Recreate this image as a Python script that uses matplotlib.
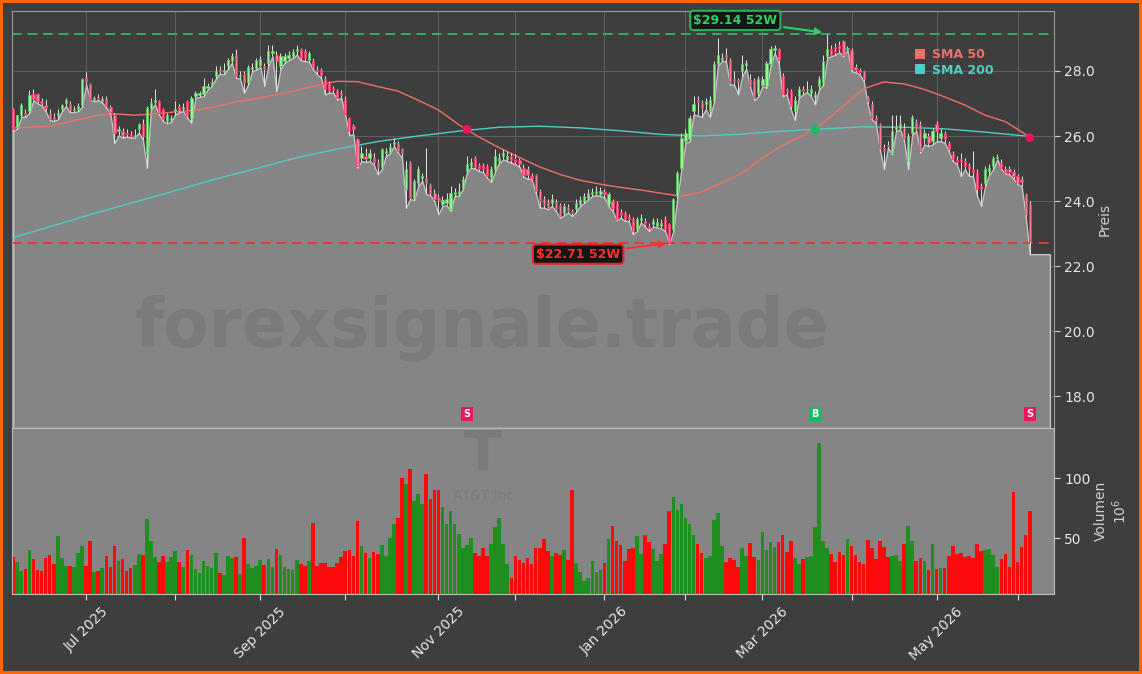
import numpy as np
import matplotlib
matplotlib.use("Agg")
import matplotlib.pyplot as plt
from matplotlib.patches import Patch

# ── Daily bars (AT&T, Jun 2025 – Jun 2026), prices in USD ─────────────
OPEN = [
    26.82, 26.28, 26.63, 26.71, 26.76, 27.30, 27.30, 27.07, 26.94, 26.71,
    26.59, 26.66, 26.82, 27.00, 26.97, 26.80, 26.82, 26.94, 27.81, 27.60,
    27.12, 27.19, 27.09, 27.15, 26.89, 26.66, 26.15, 26.15, 26.10, 26.05,
    25.98, 26.20, 26.36, 25.44, 26.87, 27.04, 27.07, 26.82, 26.46, 26.49,
    26.76, 26.92, 26.82, 27.07, 26.56, 27.22, 27.25, 27.28, 27.48, 27.58,
    27.84, 28.06, 27.96, 28.15, 28.30, 28.50, 27.84, 27.91, 27.65, 28.06,
    28.09, 28.18, 28.15, 28.25, 28.55, 28.50, 28.15, 28.30, 28.40, 28.45,
    28.61, 28.68, 28.61, 28.33, 28.30, 28.06, 28.02, 27.76, 27.63, 27.48,
    27.37, 27.33, 27.15, 26.56, 26.30, 25.90, 25.33, 25.40, 25.33, 25.36,
    25.18, 25.06, 25.47, 25.51, 25.74, 25.79, 25.59, 24.38, 25.18, 24.11,
    24.57, 24.72, 24.72, 24.48, 24.26, 24.11, 23.90, 23.93, 23.75, 24.21,
    24.21, 24.41, 24.92, 25.08, 25.33, 25.10, 25.10, 25.08, 24.72, 24.98,
    25.23, 25.38, 25.30, 25.38, 25.30, 25.26, 25.03, 24.98, 24.77, 24.79,
    24.31, 24.06, 23.97, 23.95, 23.97, 23.87, 23.63, 23.83, 23.70, 23.75,
    23.90, 24.00, 24.11, 24.21, 24.24, 24.21, 24.28, 23.90, 24.00, 23.93,
    23.67, 23.65, 23.52, 23.46, 23.13, 23.42, 23.39, 23.24, 23.29, 23.24,
    23.24, 23.44, 23.29, 23.13, 24.16, 25.03, 25.84, 25.90, 26.76, 27.12,
    27.00, 26.97, 26.76, 27.07, 28.20, 28.35, 28.50, 28.35, 27.74, 27.72,
    27.99, 28.17, 27.74, 27.72, 27.33, 27.58, 27.53, 28.20, 28.64, 28.66,
    27.84, 27.41, 27.38, 26.76, 27.22, 27.43, 27.41, 27.33, 27.17, 27.53,
    27.63, 28.47, 28.68, 28.74, 28.81, 28.91, 28.68, 28.64, 28.12, 28.02,
    27.99, 27.17, 26.97, 26.56, 26.36, 25.64, 25.71, 25.49, 26.20, 26.25,
    26.25, 25.23, 26.10, 26.43, 26.36, 25.95, 26.00, 25.84, 26.36, 25.95,
    26.08, 25.79, 25.44, 25.26, 25.28, 25.23, 25.08, 25.00, 24.89, 24.46,
    24.57, 24.92, 25.08, 25.33, 25.18, 24.98, 24.98, 24.89, 24.77, 24.69,
    24.21, 23.90,
]
HIGH = [
    26.87, 26.66, 27.00, 26.82, 27.40, 27.43, 27.33, 27.17, 27.14, 26.82,
    26.71, 26.82, 26.97, 27.17, 27.07, 26.92, 27.00, 27.79, 27.96, 27.63,
    27.22, 27.28, 27.22, 27.22, 26.94, 26.71, 26.30, 26.25, 26.20, 26.15,
    26.20, 26.41, 26.51, 26.92, 27.17, 27.45, 27.12, 26.87, 26.71, 26.66,
    27.07, 26.97, 27.02, 27.12, 27.22, 27.38, 27.38, 27.79, 27.63, 27.79,
    28.15, 28.15, 28.23, 28.40, 28.55, 28.68, 27.99, 27.99, 28.17, 28.25,
    28.40, 28.47, 28.25, 28.81, 28.81, 28.61, 28.55, 28.55, 28.61, 28.66,
    28.81, 28.71, 28.66, 28.61, 28.40, 28.15, 28.09, 27.84, 27.69, 27.55,
    27.43, 27.41, 27.22, 26.59, 26.36, 25.95, 25.69, 25.64, 25.59, 25.49,
    25.28, 25.64, 25.64, 25.79, 25.95, 25.84, 25.64, 25.23, 25.23, 24.67,
    25.08, 24.87, 25.64, 24.57, 24.36, 24.21, 24.16, 24.26, 24.46, 24.41,
    24.55, 24.77, 25.38, 25.33, 25.40, 25.18, 25.18, 25.13, 25.08, 25.59,
    25.49, 25.61, 25.54, 25.49, 25.44, 25.33, 25.13, 25.08, 24.85, 24.82,
    24.36, 24.16, 24.06, 24.21, 24.06, 23.95, 23.95, 23.90, 23.77, 24.06,
    24.16, 24.26, 24.36, 24.41, 24.46, 24.44, 24.36, 24.28, 24.06, 24.00,
    23.75, 23.70, 23.60, 23.52, 23.52, 23.60, 23.49, 23.34, 23.49, 23.49,
    23.44, 23.54, 23.34, 24.11, 24.92, 26.10, 26.20, 26.66, 27.22, 27.22,
    27.12, 27.17, 27.22, 28.30, 29.01, 28.55, 28.71, 28.40, 27.99, 27.79,
    28.50, 28.35, 27.89, 27.79, 27.84, 27.84, 28.30, 28.76, 28.81, 28.71,
    27.94, 27.48, 27.43, 27.22, 27.53, 27.53, 27.69, 27.58, 27.38, 27.84,
    28.50, 29.14, 28.81, 28.86, 28.91, 28.96, 28.76, 28.71, 28.20, 28.09,
    28.04, 27.22, 27.07, 26.66, 26.41, 25.74, 25.84, 26.66, 26.66, 26.66,
    26.41, 26.10, 26.66, 26.51, 26.46, 26.20, 26.10, 26.25, 26.46, 26.20,
    26.15, 25.84, 25.54, 25.38, 25.49, 25.33, 25.18, 25.54, 24.98, 24.57,
    25.08, 25.13, 25.40, 25.44, 25.28, 25.08, 25.08, 24.98, 24.82, 24.77,
    24.26, 24.00,
]
LOW = [
    26.15, 26.23, 26.59, 26.59, 26.71, 27.10, 27.00, 26.94, 26.76, 26.49,
    26.46, 26.51, 26.76, 26.92, 26.73, 26.73, 26.76, 26.90, 27.58, 27.10,
    27.07, 27.10, 27.02, 26.87, 26.69, 25.79, 26.02, 25.95, 25.98, 25.95,
    25.95, 26.10, 25.90, 25.03, 26.82, 26.97, 26.66, 26.46, 26.39, 26.44,
    26.66, 26.73, 26.76, 26.56, 26.41, 27.17, 27.20, 27.22, 27.43, 27.53,
    27.76, 27.92, 27.89, 28.06, 28.25, 27.79, 27.76, 27.33, 27.58, 27.99,
    28.04, 28.12, 27.55, 28.15, 28.45, 27.38, 28.06, 28.25, 28.33, 28.40,
    28.50, 28.33, 28.30, 28.28, 28.06, 27.89, 27.79, 27.28, 27.33, 27.33,
    27.12, 27.17, 26.63, 26.02, 26.05, 25.03, 25.23, 25.20, 25.23, 25.13,
    24.82, 24.98, 25.38, 25.47, 25.69, 25.49, 25.33, 23.80, 24.06, 24.03,
    24.46, 24.62, 24.21, 24.18, 24.00, 23.60, 23.85, 23.87, 23.70, 24.16,
    24.16, 24.36, 24.87, 25.03, 25.00, 24.92, 24.89, 24.72, 24.59, 24.92,
    25.18, 25.28, 25.23, 25.18, 25.13, 25.06, 24.75, 24.69, 24.67, 24.26,
    23.80, 23.80, 23.75, 23.85, 23.70, 23.49, 23.56, 23.65, 23.54, 23.67,
    23.85, 23.95, 24.06, 24.16, 24.18, 24.16, 24.11, 23.85, 23.70, 23.42,
    23.49, 23.39, 23.39, 22.98, 23.08, 23.34, 23.22, 23.08, 23.22, 23.19,
    23.16, 23.08, 22.68, 23.08, 24.11, 24.98, 25.79, 25.84, 26.66, 26.63,
    26.59, 26.82, 26.59, 27.02, 28.15, 28.30, 28.30, 27.58, 27.58, 27.28,
    27.84, 28.06, 27.48, 27.10, 27.22, 27.53, 27.48, 28.15, 28.55, 28.25,
    27.22, 27.28, 26.82, 26.49, 27.17, 27.28, 27.35, 27.22, 26.97, 27.43,
    27.58, 28.40, 28.45, 28.50, 28.57, 28.45, 28.64, 27.99, 27.96, 27.89,
    27.69, 26.97, 26.51, 26.41, 25.59, 24.98, 25.64, 25.44, 26.15, 26.20,
    25.84, 24.98, 26.05, 26.15, 25.49, 25.74, 25.69, 25.74, 25.84, 25.84,
    25.79, 25.54, 25.23, 25.13, 24.77, 24.98, 24.77, 24.77, 24.16, 23.85,
    24.46, 24.82, 24.98, 25.28, 24.98, 24.85, 24.82, 24.69, 24.52, 24.46,
    23.54, 22.37,
]
CLOSE = [
    26.20, 26.63, 26.94, 26.66, 27.25, 27.15, 27.07, 27.00, 26.87, 26.53,
    26.53, 26.71, 26.94, 27.12, 26.79, 26.84, 26.92, 27.74, 27.65, 27.12,
    27.17, 27.14, 27.14, 26.92, 26.73, 26.10, 26.23, 26.02, 26.05, 26.00,
    26.02, 26.36, 26.00, 26.87, 27.02, 27.10, 26.71, 26.53, 26.63, 26.55,
    26.84, 26.80, 26.89, 26.61, 27.17, 27.31, 27.31, 27.53, 27.55, 27.65,
    27.99, 27.99, 28.04, 28.33, 28.47, 27.84, 27.88, 27.63, 28.11, 28.12,
    28.33, 28.37, 28.06, 28.61, 28.62, 28.30, 28.45, 28.47, 28.50, 28.57,
    28.66, 28.40, 28.40, 28.55, 28.12, 28.00, 27.86, 27.43, 27.38, 27.41,
    27.17, 27.25, 26.69, 26.15, 26.20, 25.08, 25.49, 25.28, 25.47, 25.20,
    25.06, 25.59, 25.53, 25.65, 25.81, 25.54, 25.47, 25.00, 24.11, 24.62,
    24.98, 24.77, 24.57, 24.24, 24.08, 24.03, 24.03, 24.06, 24.24, 24.28,
    24.31, 24.67, 25.13, 25.20, 25.06, 25.00, 24.98, 24.77, 24.98, 25.38,
    25.33, 25.47, 25.40, 25.26, 25.20, 25.13, 24.79, 24.79, 24.72, 24.31,
    24.00, 23.87, 23.80, 24.06, 23.75, 23.54, 23.85, 23.70, 23.63, 23.95,
    24.03, 24.16, 24.24, 24.28, 24.31, 24.31, 24.21, 24.21, 23.80, 23.46,
    23.56, 23.44, 23.46, 23.08, 23.44, 23.49, 23.29, 23.16, 23.39, 23.36,
    23.34, 23.13, 22.71, 24.06, 24.87, 25.95, 26.08, 26.56, 26.97, 27.04,
    26.87, 27.07, 27.12, 28.20, 28.50, 28.41, 28.40, 27.63, 27.69, 27.65,
    28.20, 28.25, 27.53, 27.17, 27.74, 27.76, 28.25, 28.66, 28.69, 28.33,
    27.28, 27.37, 26.92, 27.12, 27.45, 27.38, 27.45, 27.45, 27.28, 27.74,
    28.30, 28.68, 28.50, 28.57, 28.66, 28.50, 28.71, 28.06, 28.02, 27.96,
    27.74, 27.07, 26.56, 26.49, 25.64, 25.54, 25.69, 26.15, 26.28, 26.36,
    25.90, 26.00, 26.59, 26.20, 25.54, 26.10, 25.79, 26.15, 26.15, 26.10,
    25.90, 25.59, 25.28, 25.20, 25.20, 25.08, 24.98, 24.89, 24.36, 24.38,
    25.00, 25.03, 25.33, 25.36, 25.03, 24.89, 24.89, 24.77, 24.57, 24.59,
    23.60, 22.78,
]
# volume in millions of shares
VOLUME = [
    34.4, 30.3, 22.8, 24.2, 40.0, 32.5, 23.3, 22.8, 33.6, 35.8,
    28.3, 51.7, 33.6, 26.9, 26.9, 26.1, 37.8, 43.3, 26.9, 47.5,
    21.4, 22.5, 25.0, 35.0, 26.1, 43.3, 30.8, 32.5, 22.5, 25.0,
    27.5, 36.7, 35.8, 65.8, 47.5, 34.2, 30.0, 35.0, 30.0, 34.2,
    39.2, 30.0, 26.1, 40.0, 35.8, 24.2, 20.8, 30.8, 26.7, 25.0,
    37.5, 20.8, 19.2, 35.0, 33.3, 34.2, 20.0, 50.0, 28.3, 25.0,
    26.7, 31.7, 27.5, 32.5, 25.8, 40.8, 35.8, 25.8, 24.2, 23.3,
    31.7, 28.3, 26.7, 30.8, 62.5, 26.7, 29.2, 29.2, 25.8, 25.8,
    29.2, 34.2, 39.2, 40.0, 35.0, 64.2, 43.3, 37.5, 33.3, 38.3,
    36.7, 44.2, 35.0, 50.0, 61.7, 66.7, 100.6, 95.6, 107.5, 81.1,
    86.7, 78.3, 103.3, 82.5, 90.0, 90.0, 75.6, 61.7, 72.5, 62.2,
    53.3, 41.7, 44.2, 50.0, 37.2, 35.0, 41.7, 35.0, 45.0, 59.2,
    66.7, 45.0, 28.3, 16.7, 35.0, 31.7, 29.2, 33.3, 28.3, 41.7,
    41.7, 49.2, 39.2, 35.0, 37.5, 35.8, 40.0, 31.7, 90.0, 29.2,
    21.7, 14.2, 16.7, 30.8, 21.7, 23.3, 29.2, 49.2, 60.0, 47.5,
    44.2, 30.8, 40.8, 41.7, 51.7, 36.7, 52.5, 46.7, 40.8, 30.8,
    36.7, 45.0, 72.5, 84.2, 73.9, 78.3, 66.7, 61.7, 52.5, 45.0,
    37.5, 33.3, 35.0, 65.0, 70.8, 43.3, 30.0, 33.3, 31.7, 25.8,
    41.7, 35.0, 45.8, 34.2, 31.7, 55.0, 40.0, 46.7, 42.5, 46.7,
    52.5, 38.3, 47.5, 33.3, 28.3, 32.5, 34.2, 35.0, 59.2, 129.2,
    47.5, 41.7, 36.7, 30.0, 38.3, 35.8, 49.2, 43.3, 35.8, 30.0,
    28.3, 48.3, 41.7, 32.5, 47.5, 42.5, 34.2, 35.0, 35.8, 30.8,
    45.0, 60.0, 47.5, 30.8, 33.3, 30.8, 23.3, 45.0, 24.2, 25.0,
    25.0, 35.0, 43.3, 36.7, 37.5, 34.2, 35.0, 33.3, 45.0, 39.2,
    40.0, 40.8, 35.8, 25.8, 32.5, 36.7, 26.1, 88.3, 30.0, 42.5,
    52.5, 72.5,
]

# moving averages (bar index -> value)
SMA50_IDX = [0, 5, 10, 15, 20, 25, 30, 35, 40, 45, 50, 55, 60, 65, 70, 75,
             80, 85, 90, 95, 100, 105, 110, 115, 120, 125, 130, 135, 140,
             145, 150, 155, 160, 165, 170, 175, 180, 185, 190, 195, 200,
             205, 210, 215, 220, 225, 230, 235, 240, 245, 250, 251]
SMA50_VAL = [26.25, 26.27, 26.32, 26.47, 26.62, 26.68, 26.64, 26.68, 26.74,
             26.79, 26.90, 27.05, 27.15, 27.27, 27.40, 27.56, 27.68, 27.67,
             27.52, 27.38, 27.10, 26.80, 26.35, 25.97, 25.64, 25.34, 25.05,
             24.82, 24.64, 24.52, 24.42, 24.34, 24.24, 24.15, 24.28, 24.56,
             24.86, 25.32, 25.72, 26.02, 26.40, 26.92, 27.45, 27.66, 27.60,
             27.43, 27.20, 26.95, 26.64, 26.44, 26.05, 25.95]
SMA200_IDX = [0, 10, 20, 30, 40, 50, 60, 70, 80, 90, 100, 110, 120, 130, 140,
              150, 160, 170, 180, 190, 200, 210, 220, 230, 240, 250, 251]
SMA200_VAL = [22.88, 23.25, 23.62, 23.97, 24.32, 24.68, 25.00, 25.33, 25.60,
              25.83, 26.00, 26.15, 26.27, 26.30, 26.25, 26.16, 26.05, 26.00,
              26.06, 26.15, 26.22, 26.28, 26.27, 26.22, 26.12, 26.00, 25.99]

# first trading day of each month (bar index) and labels
MONTH_POS = [18, 40, 61, 82, 105, 124, 146, 166, 185, 207, 228, 248]
MONTH_LABELS = ["Jul 2025", "", "Sep 2025", "", "Nov 2025", "", "Jan 2026", "",
                "Mar 2026", "", "May 2026", ""]

# SMA crossings / signals
CROSS_IDX = [112, 198, 251]
CROSS_VAL = [26.20, 26.20, 25.95]
CROSS_KIND = ["S", "B", "S"]

HIGH_52W, HIGH_52W_IDX = 29.14, 201
LOW_52W, LOW_52W_IDX = 22.71, 162

# ── Theme ──────────────────────────────────────────────────────────────
BG = "#3e3e3e"
PANEL = "#858585"
TXT = "#e6e6e6"
SMA50_COLOR = "#f07068"
SMA200_COLOR = "#4ecdc4"
UP_FACE, UP_EDGE = "#9af29a", "#5cc85c"
DN_FACE, DN_EDGE = "#ff7d98", "#ff3060"
VOL_UP, VOL_DN = "#1f901f", "#ff0a0a"
SELL_C, BUY_C = "#f0145a", "#10c060"

o = np.array(OPEN)
h = np.array(HIGH)
lo = np.array(LOW)
c = np.array(CLOSE)
n = len(c)
x = np.arange(n)
up = c >= o

PAD = 5
YMIN, YMAX = 17.03, 29.84
W, H = 1142, 674

fig = plt.figure(figsize=(W / 100, H / 100), dpi=100)
fig.patch.set_facecolor(BG)
fig.patch.set_edgecolor("#ff6600")
fig.patch.set_linewidth(4)

ax = fig.add_axes([12 / W, 1 - 428 / H, 1042 / W, 417 / H])
axv = fig.add_axes([12 / W, 1 - 594 / H, 1042 / W, 166 / H], sharex=ax)
ax.set_facecolor(BG)
axv.set_facecolor(PANEL)

# ── price panel ────────────────────────────────────────────────────────
xf = np.arange(n + PAD)
lf = np.concatenate([lo, np.full(PAD, lo[-1])])
ax.fill_between(xf, lf, YMIN, facecolor=PANEL, edgecolor="#c4c4c4",
                linewidth=1.0, zorder=1)

ax.text(0.451, 0.24, "forexsignale.trade", transform=ax.transAxes,
        fontsize=48, fontweight="bold", color="#7a7a7a",
        ha="center", va="center", zorder=1.5)

ax.plot(SMA50_IDX, SMA50_VAL, color=SMA50_COLOR, lw=1.0, zorder=2)
ax.plot(SMA200_IDX, SMA200_VAL, color=SMA200_COLOR, lw=1.0, zorder=2)

ax.axhline(HIGH_52W, color="#30b060", lw=1.4, ls=(0, (5, 3)), zorder=2.5)
ax.axhline(LOW_52W, color="#e03a3a", lw=1.4, ls=(0, (5, 3)), zorder=2.5)

# candles
ax.vlines(x, lo, h, color="#e4e4e4", lw=0.7, zorder=3)
body_lo = np.minimum(o, c)
body_h = np.maximum(np.abs(c - o), 0.02)
ax.bar(x, body_h, bottom=body_lo, width=0.55,
       color=np.where(up, UP_FACE, DN_FACE),
       edgecolor=np.where(up, UP_EDGE, DN_EDGE), linewidth=0.5, zorder=4)

# crossings
ax.scatter(CROSS_IDX, CROSS_VAL, s=28, zorder=6,
           c=[BUY_C if k == "B" else SELL_C for k in CROSS_KIND])
for i, k in zip(CROSS_IDX, CROSS_KIND):
    ax.text(i, 17.46, k, color="white", fontsize=7, fontweight="bold",
            ha="center", va="center", zorder=6,
            bbox=dict(boxstyle="square,pad=0.25",
                      fc=BUY_C if k == "B" else SELL_C, ec="none"))

# 52 week markers
ax.annotate(f"${HIGH_52W:.2f} 52W", xy=(HIGH_52W_IDX - 0.5, HIGH_52W + 0.03),
            xytext=(178.3, 29.55), color="#2ed06a", fontsize=9,
            fontweight="bold", ha="center", va="center", zorder=7,
            bbox=dict(boxstyle="round,pad=0.25", fc="#141414", ec="#28b05a",
                      lw=1.5),
            arrowprops=dict(arrowstyle="-|>", color="#2ed06a", lw=1.5,
                            mutation_scale=10))
ax.annotate(f"${LOW_52W:.2f} 52W", xy=(LOW_52W_IDX, LOW_52W),
            xytext=(139.5, 22.37), color="#ff3030", fontsize=9,
            fontweight="bold", ha="center", va="center", zorder=7,
            bbox=dict(boxstyle="round,pad=0.25", fc="#141414", ec="#e02828",
                      lw=1.5),
            arrowprops=dict(arrowstyle="-|>", color="#ff3030", lw=1.5,
                            mutation_scale=10))

leg = ax.legend([Patch(facecolor=SMA50_COLOR), Patch(facecolor=SMA200_COLOR)],
                ["SMA 50", "SMA 200"], loc="upper left",
                bbox_to_anchor=(0.867, 0.911), frameon=False,
                prop={"weight": "bold", "size": 9}, handlelength=0.8,
                handleheight=0.8, handletextpad=0.5, labelspacing=0.2,
                borderaxespad=0, borderpad=0)
for t, col in zip(leg.get_texts(), [SMA50_COLOR, SMA200_COLOR]):
    t.set_color(col)

ax.set_ylim(YMIN, YMAX)
ax.set_xlim(-0.3, 257.0)
ax.set_yticks(np.arange(18, 29, 2))
ax.set_yticklabels([f"{v:.1f}" for v in np.arange(18, 29, 2)])
ax.yaxis.tick_right()
ax.yaxis.set_label_position("right")
ax.set_ylabel("Preis", color="#d0d0d0", fontsize=10, labelpad=2)
ax.set_xticks(MONTH_POS)
ax.tick_params(axis="x", labelbottom=False, length=0)
ax.tick_params(axis="y", colors=TXT, labelsize=10, length=4, color="#cccccc")
ax.grid(True, color="#5e5e5e", lw=0.8)
ax.set_axisbelow(True)
for s in ax.spines.values():
    s.set_color("#9a9a9a")
    s.set_linewidth(0.8)

# ── volume panel ───────────────────────────────────────────────────────
axv.bar(x, VOLUME, width=0.9, color=np.where(up, VOL_UP, VOL_DN), zorder=2)
axv.text(0.452, 0.84, "T", transform=axv.transAxes, fontsize=40,
         fontweight="bold", color="#7a7a7a", ha="center", va="center", zorder=1)
axv.text(0.452, 0.59, "AT&T Inc", transform=axv.transAxes, fontsize=10,
         color="#7c7c7c", ha="center", va="center", zorder=1)
axv.set_ylim(3.3, 142)
axv.set_yticks([50, 100])
axv.yaxis.tick_right()
axv.yaxis.set_label_position("right")
axv.set_ylabel("Volumen\n$10^6$", color="#d0d0d0", fontsize=10, labelpad=2)
axv.set_xticks(MONTH_POS)
axv.set_xticklabels(MONTH_LABELS, rotation=45, ha="center")
axv.tick_params(colors=TXT, labelsize=10, length=4)
axv.tick_params(axis="both", color="#dddddd")
for s in axv.spines.values():
    s.set_color("#bcbcbc")
    s.set_linewidth(0.8)

fig.savefig("out.png", dpi=100, facecolor=fig.get_facecolor(),
            edgecolor=fig.get_edgecolor())
